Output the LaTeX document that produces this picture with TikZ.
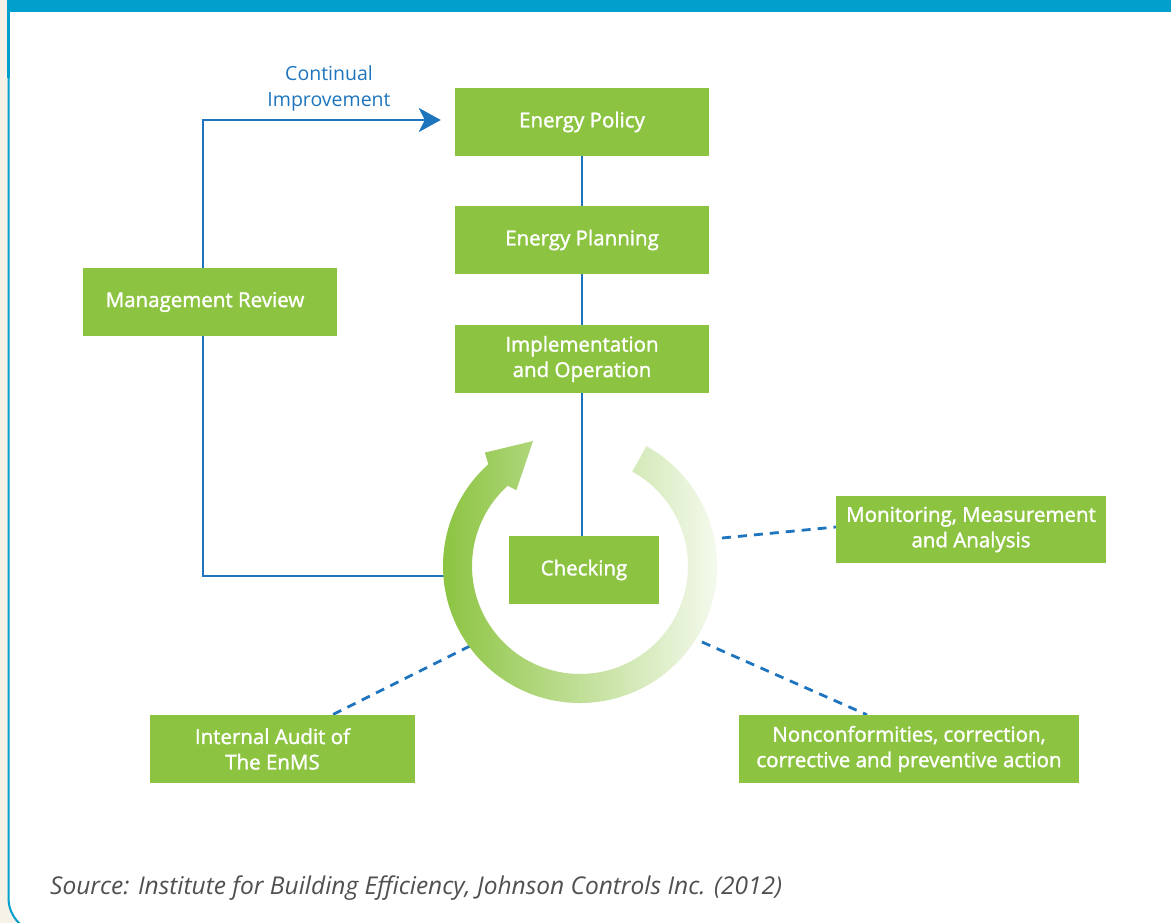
\documentclass[tikz,border=0pt]{standalone}
\usepackage{fontspec}
\setmainfont{Open Sans}
\newfontfamily\boxfont[FakeBold=1.6]{Open Sans}
\usetikzlibrary{arrows.meta}
\definecolor{boxgreen}{HTML}{8CC441}
\definecolor{lineblue}{HTML}{1E75BE}
\definecolor{frameblue}{HTML}{009FCC}
\definecolor{cream}{HTML}{F6F2E7}
\definecolor{srcgray}{HTML}{505050}
\pgfdeclarelayer{bg}
\pgfdeclarelayer{lines}
\pgfsetlayers{bg,lines,main}
\begin{document}
\begin{tikzpicture}[x=1pt,y=-1pt,
  gbox/.style={fill=boxgreen, text=white, font=\boxfont\fontsize{20.5}{25.5}\selectfont,
    align=center, inner sep=0pt, minimum height=68pt},
  link/.style={draw=lineblue, line width=2.8pt},
  dashlink/.style={draw=lineblue, line width=2.8pt, dash pattern=on 9pt off 7pt},
  lbl/.style={text=lineblue, font=\fontsize{19.5}{26}\selectfont, align=center, inner sep=0pt}]
\path[use as bounding box] (0,0) rectangle (1171,923);
\clip (0,0) rectangle (1171,923);

% boxes
\node[gbox, minimum width=254pt] (policy) at (582,122) {Energy Policy};
\node[gbox, minimum width=254pt] (planning) at (582,240) {Energy Planning};
\node[gbox, minimum width=254pt] (impl) at (582,359) {Implementation\\and Operation};
\node[gbox, minimum width=254pt] (mgmt) at (210,302) {\kern-10pt Management Review};
\node[gbox, minimum width=150pt] (check) at (584,570) {Checking};
\node[gbox, minimum width=270pt, minimum height=67pt] (mon) at (971,529.5) {Monitoring, Measurement\\and Analysis};
\node[gbox, minimum width=265pt] (audit) at (282.5,749) {\kern-20pt Internal Audit of\\\kern-20pt The EnMS};
\node[gbox, minimum width=340pt] (nonc) at (909,749) {Nonconformities, correction,\\corrective and preventive action};

\node[lbl] (ci) at (329,88) {Continual\\Improvement};
\node[text=srcgray, font=\itshape\fontsize{24.5}{28}\selectfont, anchor=base west, inner sep=0pt] (src) at (50,894)
  {Source: Institute for Building Efficiency, Johnson Controls Inc. (2012)};

\coordinate (C) at (580,566);
\coordinate (ringleft) at (445,576);
\coordinate (dm) at (722,538);
\coordinate (da) at (470,646);
\coordinate (dn) at (702,642);

\begin{pgfonlayer}{bg}
  \fill[cream] (0,0) rectangle (1171,923);
  \draw[frameblue, fill=white, line width=2pt, rounded corners=35pt] (8.5,-40) rectangle (1200,933);
  \draw[frameblue, line width=3pt] (8.5,12) -- (8.5,78);
  \fill[frameblue] (7,0) rectangle (1171,12);
\end{pgfonlayer}

\begin{pgfonlayer}{lines}
  \draw[link] (policy) -- (planning);
  \draw[link] (planning) -- (impl);
  \draw[link] (impl.south) -- (impl.south |- check.north);
  \draw[link, -{Stealth[length=22pt, width=24pt, inset=6pt]}, shorten >=14pt]
    ([xshift=-7pt]mgmt.north) |- ([yshift=2pt]policy.west);
  \draw[link] ([xshift=-7pt]mgmt.south) |- (ringleft);
  \draw[dashlink] (dm) -- ([yshift=2.5pt]mon.west);
  \draw[dashlink] (da) -- ([xshift=50pt]audit.north);
  \draw[dashlink] (dn) -- ([xshift=-42pt]nonc.north);
  % ring arrow
  \shade[left color=boxgreen, right color=boxgreen!3]
    ([shift={(-61:137)}]C) arc[start angle=-61, end angle=228, radius=137]
    -- ([shift={(230:148)}]C) -- (533,441) -- ([shift={(230:99)}]C)
    -- ([shift={(228:108)}]C) arc[start angle=228, end angle=-61, radius=108] -- cycle;
\end{pgfonlayer}
\end{tikzpicture}
\end{document}
